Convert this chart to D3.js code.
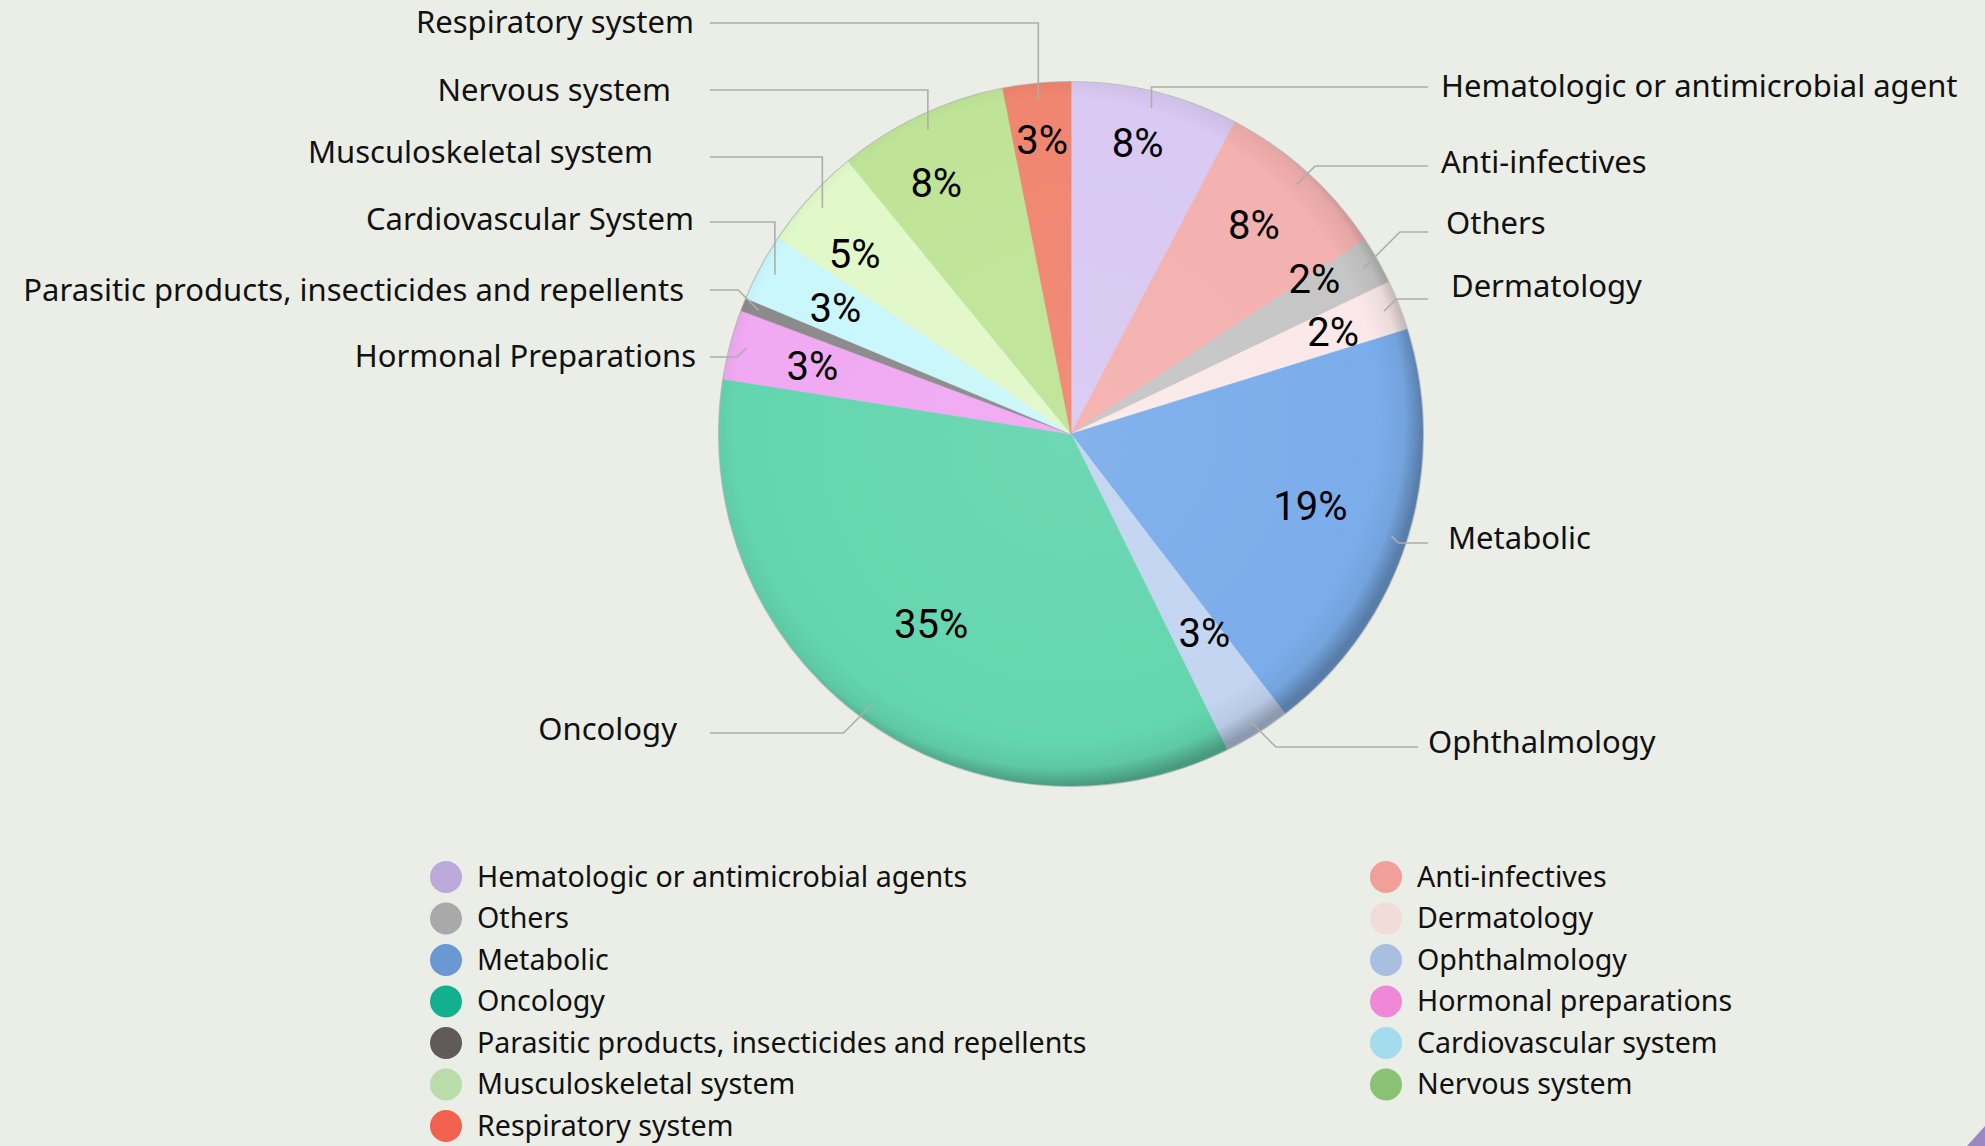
<!DOCTYPE html>
<html>
<head>
<meta charset="utf-8">
<script src="https://cdn.jsdelivr.net/npm/d3@7"></script>
<style>
  html, body { margin: 0; padding: 0; background: #ebede7; }
  svg { display: block; }
  .callout { font-family: "Noto Sans", sans-serif; font-size: 31px; fill: #111; }
  .pct { font-family: Roboto, sans-serif; font-size: 40px; fill: #000; }
  .legend-label { font-family: "Noto Sans", sans-serif; font-size: 28.6px; fill: #111; }
  .leader { fill: none; stroke: #adaeaa; stroke-width: 1.6; }
</style>
</head>
<body>
<div id="chart"></div>
<script>
// slices, clockwise from 12 o'clock
const categories = [
  "Hematologic or antimicrobial agent", "Anti-infectives", "Others", "Dermatology",
  "Metabolic", "Ophthalmology", "Oncology", "Hormonal Preparations",
  "Parasitic products, insecticides and repellents", "Cardiovascular System",
  "Musculoskeletal system", "Nervous system", "Respiratory system"
];
const values = [7.7, 8.0, 2.2, 2.3, 19.4, 3.1, 34.8, 3.2, 0.6, 3.1, 4.7, 7.8, 3.1];
const sliceColors = [
  "#d9c9f3", "#f3b1af", "#c6c6c6", "#fbe9e9", "#7badeb", "#c3d5f1", "#64d6af",
  "#f0a9f2", "#8b8b8b", "#c9f7fb", "#e1f8c9", "#bfe497", "#f08670"
];

// legend (two columns, row-major)
const legendLabels = [
  "Hematologic or antimicrobial agents", "Anti-infectives", "Others", "Dermatology",
  "Metabolic", "Ophthalmology", "Oncology", "Hormonal preparations",
  "Parasitic products, insecticides and repellents", "Cardiovascular system",
  "Musculoskeletal system", "Nervous system", "Respiratory system"
];
const legendColors = [
  "#bba9d9", "#f0a098", "#a9a9a9", "#f1dcd9", "#6998d2", "#a8bfdf", "#12b08f",
  "#ef88d6", "#605a5a", "#a3dced", "#b9dcaa", "#8bc173", "#f2614f"
];

// callout placement (layout only): text x edge, text y, leader y, side, elbow type
const callouts = [
  { tx: 1441, ty: 86,  ly: 87,  side: "r", elbow: "v" },
  { tx: 1441, ty: 162, ly: 166, side: "r", elbow: "d" },
  { tx: 1446, ty: 223, ly: 232, side: "r", elbow: "d" },
  { tx: 1451, ty: 286, ly: 299, side: "r", elbow: "d" },
  { tx: 1448, ty: 538, ly: 543, side: "r", elbow: "d" },
  { tx: 1428, ty: 742, ly: 747, side: "r", elbow: "d", lx: 1418 },
  { tx: 677,  ty: 729, ly: 733, side: "l", elbow: "d" },
  { tx: 696,  ty: 356, ly: 357, side: "l", elbow: "d" },
  { tx: 684,  ty: 290, ly: 290, side: "l", elbow: "d" },
  { tx: 694,  ty: 219, ly: 222, side: "l", elbow: "v" },
  { tx: 653,  ty: 152, ly: 157, side: "l", elbow: "v" },
  { tx: 671,  ty: 90,  ly: 90,  side: "l", elbow: "v" },
  { tx: 694,  ty: 22,  ly: 23,  side: "l", elbow: "v" }
];
// percentage label placement: radius factor and angle nudge (degrees)
const pctRadius = [0.85, 0.79, 0.82, 0.80, 0.71, 0.68, 0.67, 0.76, 0, 0.76, 0.80, 0.81, 0.84];
const pctNudge  = [-1, -1, -3, 0, -1, -2, 0, 0, 0, 0, -2.5, -3, 0];

const W = 1985, H = 1146;
const cx = 1071, cy = 434, R = 352;

const svg = d3.select("#chart").append("svg")
  .attr("width", W).attr("height", H);

svg.append("rect").attr("width", W).attr("height", H).attr("fill", "#ebede7");

const defs = svg.append("defs");
const rim = defs.append("radialGradient").attr("id", "rim")
  .attr("cx", "0.48").attr("cy", "0.48").attr("r", "0.52");
rim.append("stop").attr("offset", "0.88").attr("stop-color", "#000").attr("stop-opacity", 0);
rim.append("stop").attr("offset", "0.95").attr("stop-color", "#000").attr("stop-opacity", 0.06);
rim.append("stop").attr("offset", "1").attr("stop-color", "#000").attr("stop-opacity", 0.28);

const sheen = defs.append("radialGradient").attr("id", "sheen")
  .attr("cx", "0.5").attr("cy", "0.5").attr("r", "0.5");
sheen.append("stop").attr("offset", "0").attr("stop-color", "#fff").attr("stop-opacity", 0.06);
sheen.append("stop").attr("offset", "0.9").attr("stop-color", "#fff").attr("stop-opacity", 0);

const data = categories.map((c, i) => ({
  name: c, value: values[i], color: sliceColors[i], i
}));

const pie = d3.pie().value(d => d.value).sort(null);
const arcs = pie(data);
const arc = d3.arc().innerRadius(0).outerRadius(R);

const g = svg.append("g").attr("transform", `translate(${cx},${cy})`);

g.selectAll("path.slice")
  .data(arcs)
  .join("path")
  .attr("class", "slice")
  .attr("d", arc)
  .attr("fill", d => d.data.color)
  .attr("stroke", d => d.data.color)
  .attr("stroke-width", 0.8);

g.append("circle").attr("r", R).attr("fill", "url(#sheen)");
g.append("circle").attr("r", R).attr("fill", "url(#rim)");
g.append("circle").attr("r", R + 0.5).attr("fill", "none")
  .attr("stroke", "#9a9c98").attr("stroke-opacity", 0.5).attr("stroke-width", 1.2);

// percentage labels
const fmt = v => Math.round(v) + "%";
g.selectAll("text.pct")
  .data(arcs.filter(d => d.data.value >= 1))
  .join("text")
  .attr("class", "pct")
  .attr("text-anchor", "middle")
  .attr("dy", "0.36em")
  .attr("transform", d => {
    const a = (d.startAngle + d.endAngle) / 2 + pctNudge[d.data.i] * Math.PI / 180;
    const r = R * pctRadius[d.data.i];
    return `translate(${r * Math.sin(a)},${-r * Math.cos(a)})`;
  })
  .text(d => fmt(d.data.value));

// callouts
const anchorR = R * 0.955;
arcs.forEach(d => {
  const c = callouts[d.data.i];
  const a = (d.startAngle + d.endAngle) / 2;
  const ax = cx + anchorR * Math.sin(a);
  const ay = cy - anchorR * Math.cos(a);
  const right = c.side === "r";
  const lx = c.lx != null ? c.lx : (right ? 1428 : 710);
  const dy = Math.abs(c.ly - ay);
  const ex = c.elbow === "v" ? ax : ax + (right ? dy : -dy);
  svg.append("path")
    .attr("class", "leader")
    .attr("d", d3.line()([[lx, c.ly], [ex, c.ly], [ax, ay]]));
  svg.append("text")
    .attr("class", "callout")
    .attr("x", c.tx).attr("y", c.ty)
    .attr("dy", "0.36em")
    .attr("text-anchor", right ? "start" : "end")
    .text(d.data.name);
});

// legend
const colX = [446, 1386];
const rowY = d3.scaleLinear().domain([0, 1]).range([877, 918.5]);
const leg = svg.append("g");
legendLabels.forEach((name, i) => {
  const col = i % 2, row = Math.floor(i / 2);
  const y = rowY(row);
  leg.append("circle")
    .attr("cx", colX[col]).attr("cy", y).attr("r", 16)
    .attr("fill", legendColors[i]);
  leg.append("text")
    .attr("class", "legend-label")
    .attr("x", colX[col] + 31).attr("y", y)
    .attr("dy", "0.34em")
    .text(name);
});

// corner decoration
svg.append("path")
  .attr("d", "M1967,1146 L1985,1126 L1985,1146 Z")
  .attr("fill", "#9b87c2");
</script>
</body>
</html>
